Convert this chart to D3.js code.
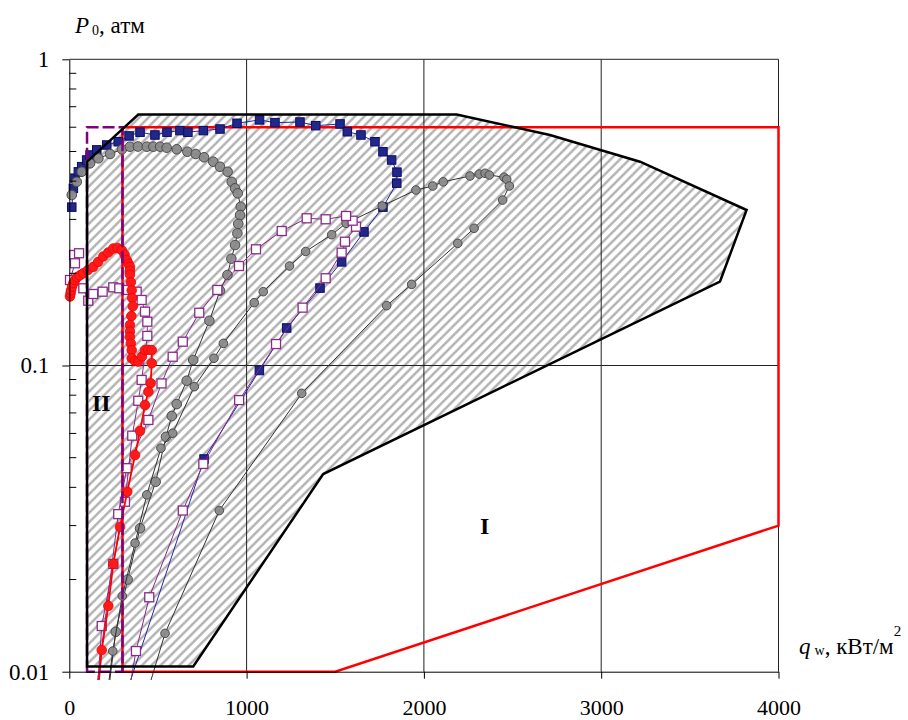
<!DOCTYPE html>
<html>
<head>
<meta charset="utf-8">
<script src="https://cdn.jsdelivr.net/npm/d3@7"></script>
<style>
  body { margin: 0; background: #fff; }
  svg { display: block; }
  text { font-family: "Liberation Serif", "Times New Roman", serif; fill: #000; }
</style>
</head>
<body>
<svg id="chart" width="908" height="720"></svg>
<script>
// Axis ticks
const xTicks = [0, 1000, 2000, 3000, 4000];
const yTicks = [0.01, 0.1, 1];

// Hatched operating zone (q_w, P0)
const zoneQ = [100, 100, 389, 2185, 2711, 3219, 3820, 3670, 1432, 699];
const zoneP = [0.0104, 0.463, 0.66, 0.66, 0.566, 0.463, 0.322, 0.188, 0.0442, 0.0104];

// Region I boundary (red)
const regionIQ = [300, 300, 4000, 4000, 1500];
const regionIP = [0.01, 0.6, 0.6, 0.03, 0.01];

// Region II boundary (purple dashed)
const regionIIQ = [100, 100, 300, 300];
const regionIIP = [0.01, 0.6, 0.6, 0.01];

// Experimental runs: [q_w, P0]
const runBlue = [[14,0.329],[23,0.379],[32,0.409],[51,0.429],[70,0.446],[98,0.469],[117,0.487],[155,0.506],
  [211,0.525],[276,0.538],[337,0.562],[399,0.578],[483,0.566],[551,0.578],[624,0.585],[669,0.578],[756,0.585],
  [850,0.592],[946,0.618],[1073,0.634],[1160,0.621],[1301,0.624],[1390,0.607],[1527,0.615],[1568,0.580],
  [1645,0.566],[1724,0.538],[1769,0.499],[1818,0.469],[1848,0.428],[1847,0.394],[1769,0.329],[1662,0.273],
  [1536,0.218],[1414,0.179],[1226,0.1326],[1072,0.0963],[760,0.0495],[303,0.0079]];

const runGrayA = [[14,0.3604],[42,0.398],[70,0.4294],[117,0.4574],[164,0.475],[230,0.4906],[297,0.5083],
  [342,0.5183],[387,0.519],[437,0.5183],[474,0.5183],[512,0.5183],[549,0.5144],[606,0.5083],[666,0.4992],
  [713,0.4906],[760,0.4786],[812,0.463],[850,0.4458],[893,0.4294],[916,0.398],[935,0.379],[950,0.365],
  [967,0.330],[963,0.310],[953,0.290],[948,0.270],[935,0.2474],[914,0.2233],[892,0.1975],[850,0.1755],
  [790,0.140],[699,0.1042],[662,0.0892],[606,0.0748],[578,0.0684],[545,0.0585],[487,0.0417],[399,0.0294],
  [329,0.0200],[262,0.0135],[215,0.00808]];

const runGrayB = [[210,0.00808],[245,0.01168],[299,0.01767],[371,0.0263],[437,0.0378],[517,0.0537],
  [583,0.0601],[705,0.0853],[816,0.1056],[869,0.1181],[1043,0.1604],[1094,0.1742],[1242,0.2113],[1333,0.2357],
  [1480,0.2674],[1561,0.2913],[1765,0.3319],[1955,0.3742],[2050,0.3856],[2109,0.398],[2260,0.4158],
  [2312,0.422],[2345,0.4243],[2369,0.4189],[2452,0.4118],[2467,0.4056],[2482,0.3856],[2444,0.347],
  [2283,0.2806],[2191,0.2506],[1931,0.1841],[1790,0.1568],[1311,0.0811],[846,0.0336],[540,0.01334],
  [427,0.00808]];

const runPurpleA = [[27,0.2296],[55,0.2326],[32,0.2157],[4,0.1902],[79,0.1787],[107,0.1628],[135,0.1712],
  [188,0.1742],[248,0.180],[282,0.1787],[331,0.1765],[380,0.1742],[408,0.1637],[427,0.1499],[440,0.139],
  [440,0.1249],[408,0.0897],[389,0.0767],[355,0.0590],[314,0.0359],[248,0.0225],[183,0.0141],[155,0.00808]];

const runPurpleB = [[329,0.00808],[376,0.01168],[451,0.0175],[640,0.0336],[756,0.0477],[958,0.0771],
  [1166,0.1175],[1316,0.1545],[1446,0.1927],[1536,0.2336],[1555,0.2537],[1617,0.284],[1598,0.2971],
  [1561,0.3078],[1446,0.3003],[1339,0.3025],[1198,0.2749],[1053,0.2396],[957,0.2113],[835,0.1765],
  [733,0.1487],[640,0.1196],[583,0.1068],[520,0.0874],[446,0.0664],[324,0.0462],[276,0.0327],[146,0.00808]];

const runRed = [[4,0.168],[7,0.172],[10,0.176],[16,0.181],[23,0.186],[32,0.190],[43,0.194],[60,0.197],
  [79,0.200],[105,0.205],[135,0.210],[163,0.218],[192,0.227],[220,0.234],[248,0.241],[272,0.242],[296,0.238],
  [312,0.230],[324,0.221],[334,0.215],[342,0.210],[342,0.204],[342,0.198],[347,0.187],[352,0.176],[355,0.166],
  [358,0.156],[350,0.145],[342,0.1356],[342,0.129],[342,0.1239],[347,0.118],[352,0.1123],[352,0.1056],
  [370,0.1035],[389,0.1029],[410,0.107],[427,0.1123],[446,0.1125],[465,0.1123],[465,0.1017],[459,0.0875],
  [446,0.0821],[427,0.0743],[399,0.0611],[371,0.0510],[327,0.0387],[286,0.0297],[248,0.0225],[220,0.0164],
  [183,0.01177],[157,0.00808]];

const svg = d3.select("#chart");
const x = d3.scaleLinear().domain([0, 4000]).range([69.3, 778.5]);
const y = d3.scaleLog().domain([0.01, 1]).range([671.7, 59.3]);

const defs = svg.append("defs");
const hatch = defs.append("pattern")
  .attr("id", "hatch").attr("patternUnits", "userSpaceOnUse")
  .attr("width", 6.6).attr("height", 6.6)
  .attr("patternTransform", "rotate(45)");
hatch.append("line").attr("x1", 3.3).attr("y1", 0).attr("x2", 3.3).attr("y2", 6.6)
  .attr("stroke", "#bdbdbd").attr("stroke-width", 2.6);
hatch.append("line").attr("x1", 3.3).attr("y1", 0).attr("x2", 3.3).attr("y2", 6.6)
  .attr("stroke", "#9a9a9a").attr("stroke-width", 0.9).attr("stroke-dasharray", "1.1,1.1");

defs.append("clipPath").attr("id", "plotClip")
  .append("rect").attr("x", 0).attr("y", 0).attr("width", 908).attr("height", 680);

const toPts = (qs, ps) => qs.map((q, i) => [x(q), y(ps[i])]);
const closed = d3.line().curve(d3.curveLinearClosed);

// Hatched zone fill
svg.append("path").attr("d", closed(toPts(zoneQ, zoneP)))
  .attr("fill", "url(#hatch)").attr("stroke", "none");

// Grid
const grid = svg.append("g").attr("stroke", "#222").attr("stroke-width", 1);
xTicks.filter(d => d > 0).forEach(d => {
  grid.append("line").attr("x1", x(d)).attr("x2", x(d)).attr("y1", y(0.01)).attr("y2", y(1));
});
yTicks.filter(d => d > 0.01).forEach(d => {
  grid.append("line").attr("x1", x(0)).attr("x2", x(4000)).attr("y1", y(d)).attr("y2", y(d));
});

// Region I
svg.append("path").attr("d", closed(toPts(regionIQ, regionIP)))
  .attr("fill", "none").attr("stroke", "#ff0000").attr("stroke-width", 2.5);

const plot = svg.append("g").attr("clip-path", "url(#plotClip)");
const line = d3.line().x(d => x(d[0])).y(d => y(d[1]));

function drawSeries(data, opt) {
  const g = plot.append("g");
  g.append("path").attr("d", line(data)).attr("fill", "none")
    .attr("stroke", opt.line).attr("stroke-width", opt.lw);
  if (opt.shape === "circle") {
    g.selectAll("circle").data(data).join("circle")
      .attr("cx", d => x(d[0])).attr("cy", d => y(d[1])).attr("r", opt.size)
      .attr("fill", opt.fill).attr("stroke", opt.stroke).attr("stroke-width", opt.sw)
      .attr("fill-opacity", opt.op || 1);
  } else {
    g.selectAll("rect").data(data).join("rect")
      .attr("x", d => x(d[0]) - opt.size / 2).attr("y", d => y(d[1]) - opt.size / 2)
      .attr("width", opt.size).attr("height", opt.size)
      .attr("fill", opt.fill).attr("stroke", opt.stroke).attr("stroke-width", opt.sw);
  }
}

drawSeries(runBlue, {shape: "rect", size: 8.5, fill: "#22288a", stroke: "#0c0c66", sw: 1, line: "#2626a8", lw: 1});
drawSeries(runGrayA, {shape: "circle", size: 4.8, fill: "#8a8a8a", stroke: "#4a4a4a", sw: 1, line: "#333", lw: 1, op: 0.95});
drawSeries(runGrayB, {shape: "circle", size: 4.3, fill: "#8a8a8a", stroke: "#4a4a4a", sw: 1, line: "#333", lw: 1, op: 0.95});
drawSeries(runPurpleA, {shape: "rect", size: 9, fill: "#fff", stroke: "#8a2a8a", sw: 1.3, line: "#8a2a8a", lw: 1});
drawSeries(runPurpleB, {shape: "rect", size: 9, fill: "#fff", stroke: "#8a2a8a", sw: 1.3, line: "#8a2a8a", lw: 1});
drawSeries(runRed, {shape: "circle", size: 4.8, fill: "#ff1a1a", stroke: "#f00000", sw: 0.8, line: "#ff0000", lw: 1.8});

// Region II
svg.append("path").attr("d", closed(toPts(regionIIQ, regionIIP)))
  .attr("fill", "none").attr("stroke", "#800080").attr("stroke-width", 2.5)
  .attr("stroke-dasharray", "12,4");

// Zone outline
svg.append("path").attr("d", closed(toPts(zoneQ, zoneP)))
  .attr("fill", "none").attr("stroke", "#000").attr("stroke-width", 2.5).attr("stroke-linejoin", "miter");

// Axes
const xAxis = d3.axisBottom(x).tickValues(xTicks).tickFormat(d3.format("d"))
  .tickSize(7).tickSizeOuter(0).tickPadding(21);
const gx = svg.append("g").attr("transform", `translate(0,${y(0.01)})`).call(xAxis);
gx.selectAll("text").attr("font-size", 22).attr("font-family", "Liberation Serif, serif");
gx.selectAll("line, path").attr("stroke", "#000");

const yAxis = d3.axisLeft(y).tickValues(yTicks).tickFormat(d => String(d))
  .tickSize(7).tickSizeOuter(0).tickPadding(13);
const gy = svg.append("g").attr("transform", `translate(${x(0)},0)`).call(yAxis);
gy.selectAll("text").attr("font-size", 23).attr("font-family", "Liberation Serif, serif");
gy.selectAll("line, path").attr("stroke", "#000");

// Minor log ticks, inside
const minor = [];
[0.01, 0.1].forEach(dec => { for (let k = 2; k <= 9; k++) minor.push(k * dec); });
svg.append("g").selectAll("line").data(minor).join("line")
  .attr("x1", x(0)).attr("x2", x(0) + 7).attr("y1", d => y(d)).attr("y2", d => y(d))
  .attr("stroke", "#000").attr("stroke-width", 1);

// Axis titles
const ty = svg.append("text").attr("x", 75).attr("y", 33).attr("font-size", 23);
ty.append("tspan").attr("font-style", "italic").text("P");
ty.append("tspan").attr("font-size", 14).attr("dx", 3).attr("dy", 2).text("0");
ty.append("tspan").attr("dy", -2).text(", атм");

const tx = svg.append("text").attr("x", 799).attr("y", 654).attr("font-size", 23);
tx.append("tspan").attr("font-style", "italic").text("q");
tx.append("tspan").attr("font-size", 14).attr("dx", 4).attr("dy", 1).text("w");
tx.append("tspan").attr("dy", -1).text(", кВт/м");
tx.append("tspan").attr("font-size", 15).attr("dy", -18).text("2");

// Region labels
svg.append("text").attr("x", 92).attr("y", 411).attr("font-size", 24).attr("font-weight", "bold").text("II");
svg.append("text").attr("x", 480).attr("y", 534).attr("font-size", 24).attr("font-weight", "bold").text("I");
</script>
</body>
</html>
